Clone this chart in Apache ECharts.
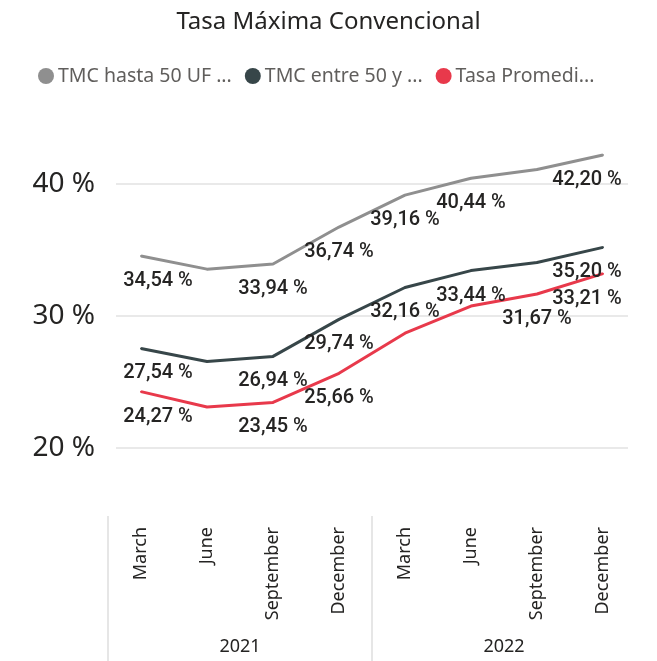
<!DOCTYPE html>
<html>
<head>
<meta charset="utf-8">
<script src="https://cdn.jsdelivr.net/npm/echarts@6/dist/echarts.min.js"></script>
<style>
html,body{margin:0;padding:0;background:#fff;}
#chart{width:657px;height:661px;}
</style>
</head>
<body>
<div id="chart"></div>
<script>
// ---- data ----
var months = ['March', 'June', 'September', 'December', 'March', 'June', 'September', 'December'];
var years = ['2021', '2022'];
var seriesNames = ['TMC hasta 50 UF ...', 'TMC entre 50 y ...', 'Tasa Promedi...'];
var tmcHasta50 = [34.54, 33.55, 33.94, 36.74, 39.16, 40.44, 41.10, 42.20];
var tmcEntre50 = [27.54, 26.55, 26.94, 29.74, 32.16, 33.44, 34.05, 35.20];
var tasaPromedio = [24.27, 23.10, 23.45, 25.66, 28.70, 30.75, 31.67, 33.21];
// which points carry a data label in the reference
var shownHasta50 = [1, 0, 1, 1, 1, 1, 0, 1];
var shownEntre50 = [1, 0, 1, 1, 1, 1, 0, 1];
var shownPromedio = [1, 0, 1, 1, 0, 0, 1, 1];
var yTicks = [20, 30, 40];

var colors = ['#8F8F8F', '#374649', '#E8394B'];
var labelFont = 'Roboto, "DejaVu Sans Condensed", sans-serif';
var uiFont = '"Segoe UI", "Noto Sans", "Open Sans", sans-serif';

function fmt(v) { return v.toFixed(2).replace('.', ',') + ' %'; }

function buildData(values, shown) {
  return values.map(function (v, i) {
    var off = [0, 0];
    if (i === 0) off = [17, 0];
    if (i === values.length - 1) off = [-16, 0];
    return { value: v, label: { show: !!shown[i], offset: off } };
  });
}

function makeSeries(name, values, shown, color) {
  return {
    name: name,
    type: 'line',
    xAxisIndex: 1,
    yAxisIndex: 1,
    data: buildData(values, shown),
    symbol: 'circle',
    symbolSize: 2,
    showSymbol: true,
    clip: false,
    lineStyle: { color: color, width: 3 },
    itemStyle: { color: color },
    emphasis: { disabled: true },
    label: {
      show: true,
      position: 'bottom',
      distance: 14,
      formatter: function (p) { return fmt(p.value); },
      fontFamily: labelFont,
      fontWeight: 500,
      fontSize: 20,
      color: '#252423'
    },
    z: 3
  };
}

var chart = echarts.init(document.getElementById('chart'), null, { renderer: 'canvas' });
chart.setOption({
  animation: false,
  backgroundColor: '#ffffff',
  title: {
    text: 'Tasa Máxima Convencional',
    left: 'center',
    top: 5,
    textStyle: { fontFamily: uiFont, fontSize: 24, fontWeight: 'normal', color: '#252423' }
  },
  legend: {
    data: seriesNames,
    top: 61,
    left: 33,
    icon: 'circle',
    itemWidth: 16,
    itemHeight: 16,
    itemGap: 13,
    textStyle: { fontFamily: uiFont, fontSize: 19.5, color: '#605E5C', padding: [0, 0, 0, -1] }
  },
  grid: [
    { left: 116, right: 29, top: 184, bottom: 213 },
    { left: 108, right: 21, top: 118, bottom: 147 },
    { left: 108, right: 21, top: 516, bottom: 0 }
  ],
  xAxis: [
    { gridIndex: 0, type: 'value', show: false, min: 0, max: 1 },
    {
      gridIndex: 1, type: 'category', data: months, boundaryGap: true,
      axisLine: { show: false }, axisTick: { show: false },
      axisLabel: { rotate: 90, margin: 13, fontFamily: uiFont, fontSize: 18, color: '#252423', interval: 0 }
    },
    {
      gridIndex: 1, type: 'category', data: years, position: 'bottom', offset: 2,
      axisLine: { show: false }, axisTick: { show: false },
      axisLabel: { margin: 122, fontFamily: uiFont, fontSize: 18, color: '#252423' }
    },
    {
      gridIndex: 2, type: 'value', min: 0, max: 8, interval: 4,
      axisLine: { show: false }, axisTick: { show: false }, axisLabel: { show: false },
      splitLine: { show: true, showMinLine: true, showMaxLine: false, lineStyle: { color: '#E6E6E6', width: 2 } }
    }
  ],
  yAxis: [
    {
      gridIndex: 0, type: 'value', min: yTicks[0], max: yTicks[yTicks.length - 1], interval: 10,
      axisLine: { show: false }, axisTick: { show: false },
      axisLabel: { formatter: '{value} %', margin: 21, fontFamily: uiFont, fontSize: 28, color: '#252423' },
      splitLine: { show: true, lineStyle: { color: '#E9E9E9', width: 2 } }
    },
    { gridIndex: 1, type: 'value', min: 15, max: 45, show: false, splitLine: { show: false } },
    { gridIndex: 2, type: 'value', min: 0, max: 1, show: false, splitLine: { show: false } }
  ],
  series: [
    makeSeries(seriesNames[0], tmcHasta50, shownHasta50, colors[0]),
    makeSeries(seriesNames[1], tmcEntre50, shownEntre50, colors[1]),
    makeSeries(seriesNames[2], tasaPromedio, shownPromedio, colors[2])
  ]
});
</script>
</body>
</html>
